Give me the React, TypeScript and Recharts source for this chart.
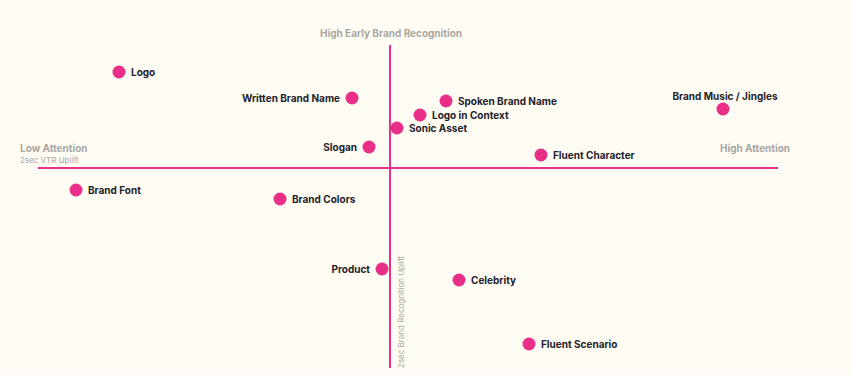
import { ScatterChart, Scatter, XAxis, YAxis, ReferenceLine } from "recharts";

const names = [
  "Logo",
  "Written Brand Name",
  "Spoken Brand Name",
  "Logo in Context",
  "Sonic Asset",
  "Slogan",
  "Brand Music / Jingles",
  "Fluent Character",
  "Brand Font",
  "Brand Colors",
  "Product",
  "Celebrity",
  "Fluent Scenario",
];
// 2sec VTR uplift (attention)
const vtrUplift = [-27.1, -3.8, 5.6, 3.0, 0.7, -2.1, 33.3, 15.1, -31.4, -11.0, -0.8, 6.9, 13.9];
// 2sec brand recognition uplift
const recognitionUplift = [9.6, 7.0, 6.7, 5.3, 4.0, 2.1, 5.9, 1.3, -2.2, -3.1, -10.1, -11.2, -17.6];

const data = names.map((name, i) => ({ name, x: vtrUplift[i], y: recognitionUplift[i] }));

const PINK = "#ea2f88";
const GRAY = "#a9a7a3";
const FONT = "Inter, 'Open Sans', sans-serif";

const leftLabels = ["Written Brand Name", "Slogan", "Product"];
const topLabels = ["Brand Music / Jingles"];

function Dot(props: any) {
  const { cx, cy, payload } = props;
  const name = payload.name as string;
  let tx = cx + 12;
  let ty = cy;
  let anchor: "start" | "end" | "middle" = "start";
  if (leftLabels.includes(name)) {
    tx = cx - 12;
    anchor = "end";
  } else if (topLabels.includes(name)) {
    tx = cx + 2;
    ty = cy - 13;
    anchor = "middle";
  }
  return (
    <g>
      <circle cx={cx} cy={cy} r={6.5} fill={PINK} />
      <text
        x={tx}
        y={ty}
        textAnchor={anchor}
        dominantBaseline="central"
        fontFamily={FONT}
        fontWeight={700}
        fontSize={10}
        fill="#23222a"
      >
        {name}
      </text>
    </g>
  );
}

export default function App() {
  return (
    <div style={{ position: "absolute", left: 0, top: 0, width: 853, height: 375, background: "#fffcf4", overflow: "hidden" }}>
      <ScatterChart width={853} height={375} margin={{ top: 45, right: 75, bottom: 7, left: 38 }}>
        <XAxis type="number" dataKey="x" domain={[-35.2, 38.8]} hide />
        <YAxis type="number" dataKey="y" domain={[-20, 12.3]} hide />
        <ReferenceLine y={0} stroke={PINK} strokeWidth={2} />
        <ReferenceLine x={0} stroke={PINK} strokeWidth={2} />
        <Scatter data={data} shape={<Dot />} isAnimationActive={false} />
      </ScatterChart>
      <div style={{ position: "absolute", left: 720, top: 142, fontFamily: FONT, fontWeight: 700, fontSize: 10, color: GRAY, whiteSpace: "nowrap" }}>
        High Attention
      </div>
      <div style={{ position: "absolute", left: 391, top: 27, transform: "translateX(-50%)", fontFamily: FONT, fontWeight: 700, fontSize: 10, color: GRAY, whiteSpace: "nowrap" }}>
        High Early Brand Recognition
      </div>
      <div style={{ position: "absolute", left: 20, top: 142, fontFamily: FONT, fontWeight: 700, fontSize: 10, color: GRAY, whiteSpace: "nowrap" }}>
        Low Attention
      </div>
      <div style={{ position: "absolute", left: 20, top: 155, fontFamily: FONT, fontSize: 8, color: GRAY, whiteSpace: "nowrap" }}>
        2sec VTR Uplift
      </div>
      <div
        style={{
          position: "absolute",
          left: 396,
          top: 368,
          transformOrigin: "0 0",
          transform: "rotate(-90deg)",
          fontFamily: FONT,
          fontSize: 8,
          color: GRAY,
          whiteSpace: "nowrap",
        }}
      >
        2sec Brand Recognition Uplift
      </div>
    </div>
  );
}
